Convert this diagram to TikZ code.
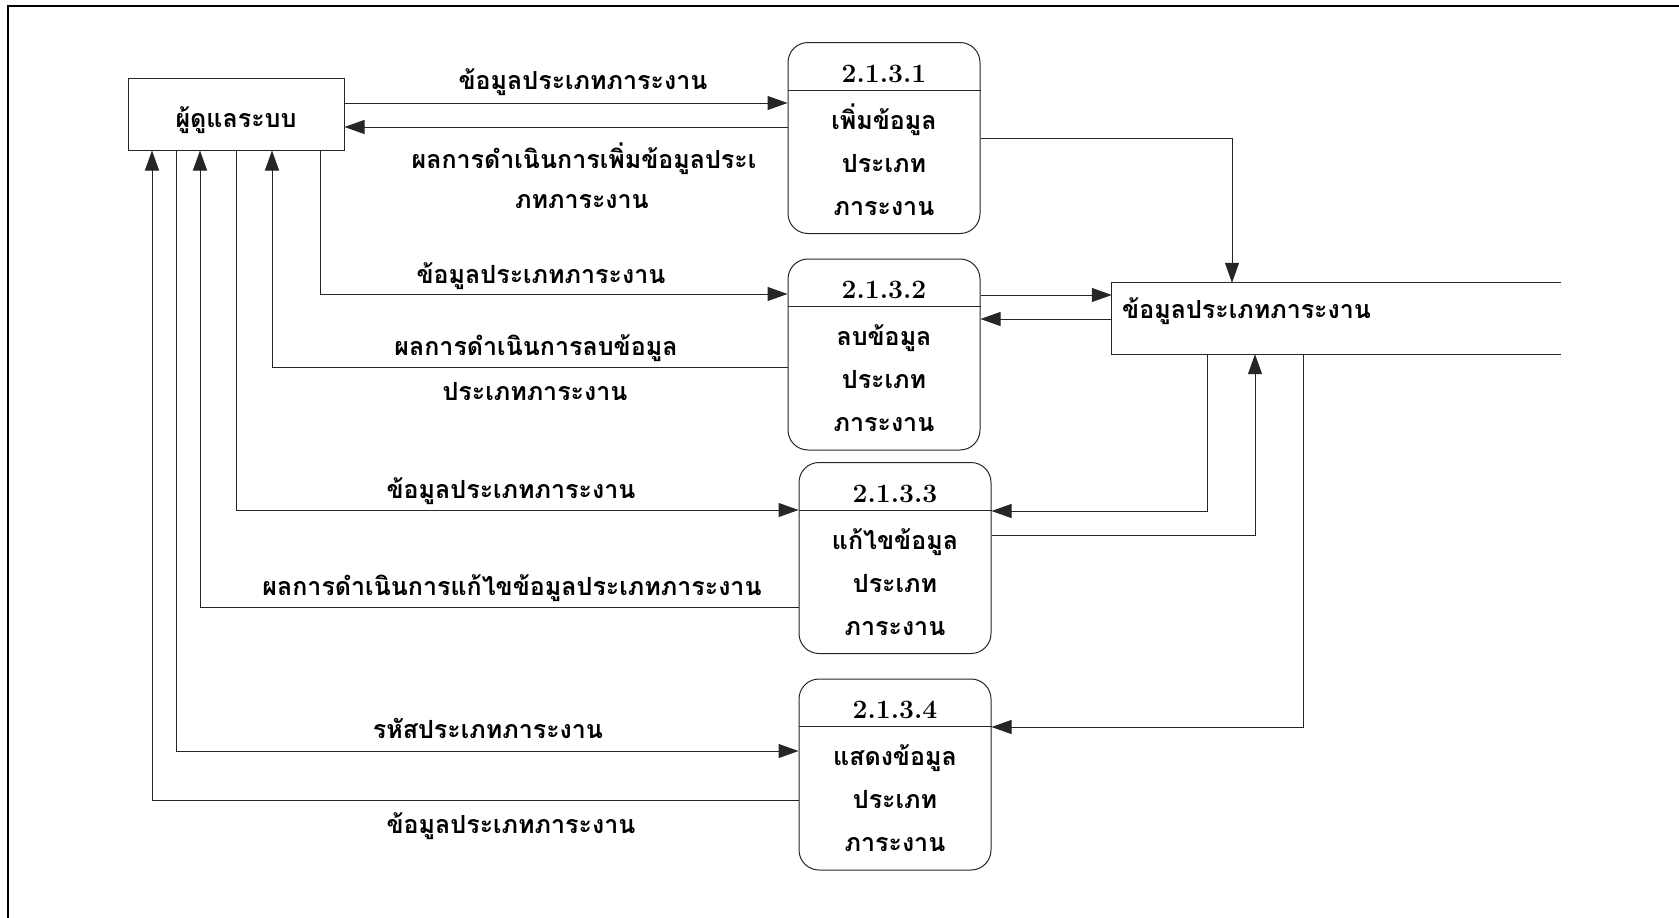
\documentclass[tikz,border=0pt]{standalone}
\usepackage{fontspec}
\newfontfamily\thaifont[Script=Thai]{Loma}
\usetikzlibrary{arrows.meta}

\tikzset{
  ln/.style={draw=black!85, line width=1pt},
  flow/.style={ln, -{Triangle[length=20pt,width=14pt]}},
  thtxt/.style={font={\thaifont\bfseries\fontsize{25}{30}\selectfont}, inner sep=0pt, anchor=base},
  numtxt/.style={font={\bfseries\fontsize{26.5}{30}\selectfont}, inner sep=0pt, anchor=base},
  entbox/.style={ln, minimum width=216pt, minimum height=72pt, inner sep=0pt},
  procbox/.style={ln, rounded corners=20pt, minimum width=192pt, minimum height=191pt, inner sep=0pt},
  storebox/.style={minimum width=449pt, minimum height=71pt, inner sep=0pt},
}

% process bubble: name, centre, number, three text lines
\newcommand\procnode[6]{%
  \node[procbox] (#1) at (#2) {};
  \draw[ln] ([yshift=-48pt]#1.north west) -- ([yshift=-48pt]#1.north east);
  \node[numtxt] (#1-num) at ([yshift=-40pt]#1.north) {#3};
  \node[thtxt] (#1-a) at ([yshift=-87pt]#1.north) {#4};
  \node[thtxt] (#1-b) at ([yshift=-130pt]#1.north) {#5};
  \node[thtxt] (#1-c) at ([yshift=-173pt]#1.north) {#6};
}

\begin{document}
\begin{tikzpicture}[x=1pt,y=-1pt]
\useasboundingbox (0,0) rectangle (1679,918);

% outer frame (top and left edges)
\draw[line width=2pt] (8,918) -- (8,6) -- (1679,6);

% external entity
\node[entbox] (ent) at (236,114) {};
\node[thtxt] (ent-t) at (236,127) {ผู้ดูแลระบบ};

% processes
\procnode{p1}{884,138}{2.1.3.1}{เพิ่มข้อมูล}{ประเภท}{ภาระงาน}
\procnode{p2}{884,354.5}{2.1.3.2}{ลบข้อมูล}{ประเภท}{ภาระงาน}
\procnode{p3}{895,558}{2.1.3.3}{แก้ไขข้อมูล}{ประเภท}{ภาระงาน}
\procnode{p4}{895,774.5}{2.1.3.4}{แสดงข้อมูล}{ประเภท}{ภาระงาน}

% data store (open on the right)
\node[storebox] (ds) at (1336.5,318.5) {};
\draw[ln] (ds.north east) -- (ds.north west) -- (ds.south west) -- (ds.south east);
\node[thtxt, anchor=base west] (ds-t) at (1122,318) {ข้อมูลประเภทภาระงาน};

% flows between entity and processes
\draw[flow] (ent.east |- 0,103) -- (p1.west |- 0,103);
\draw[flow] (p1.west |- 0,127) -- (ent.east |- 0,127);
\draw[flow] (ent.south -| 320,0) |- (p2.west |- 0,294);
\draw[flow] (p2.west |- 0,367) -| (ent.south -| 272,0);
\draw[flow] (ent.south -| 236,0) |- (p3.west |- 0,510);
\draw[flow] (p3.west |- 0,607) -| (ent.south -| 200,0);
\draw[flow] (ent.south -| 176,0) |- (p4.west |- 0,751);
\draw[flow] (p4.west |- 0,800) -| (ent.south -| 152,0);

% flows between processes and data store
\draw[flow] (p1.east |- 0,138) -| (ds.north -| 1232,0);
\draw[flow] (p2.east |- 0,295) -- (ds.west |- 0,295);
\draw[flow] (ds.west |- 0,319) -- (p2.east |- 0,319);
\draw[flow] (ds.south -| 1207,0) |- (p3.east |- 0,511);
\draw[flow] (p3.east |- 0,535) -| (ds.south -| 1255,0);
\draw[flow] (ds.south -| 1303,0) |- (p4.east |- 0,727);

% flow labels
\node[thtxt] (l1) at (583,89) {ข้อมูลประเภทภาระงาน};
\node[thtxt] (l2a) at (584,168) {ผลการดำเนินการเพิ่มข้อมูลประเ};
\node[thtxt] (l2b) at (582,208) {ภทภาระงาน};
\node[thtxt] (l3) at (541,283) {ข้อมูลประเภทภาระงาน};
\node[thtxt] (l4a) at (536,355) {ผลการดำเนินการลบข้อมูล};
\node[thtxt] (l4b) at (535,400) {ประเภทภาระงาน};
\node[thtxt] (l5) at (511,498) {ข้อมูลประเภทภาระงาน};
\node[thtxt] (l6) at (512,595) {ผลการดำเนินการแก้ไขข้อมูลประเภทภาระงาน};
\node[thtxt] (l7) at (488,738) {รหัสประเภทภาระงาน};
\node[thtxt] (l8) at (511,833) {ข้อมูลประเภทภาระงาน};
\end{tikzpicture}
\end{document}
